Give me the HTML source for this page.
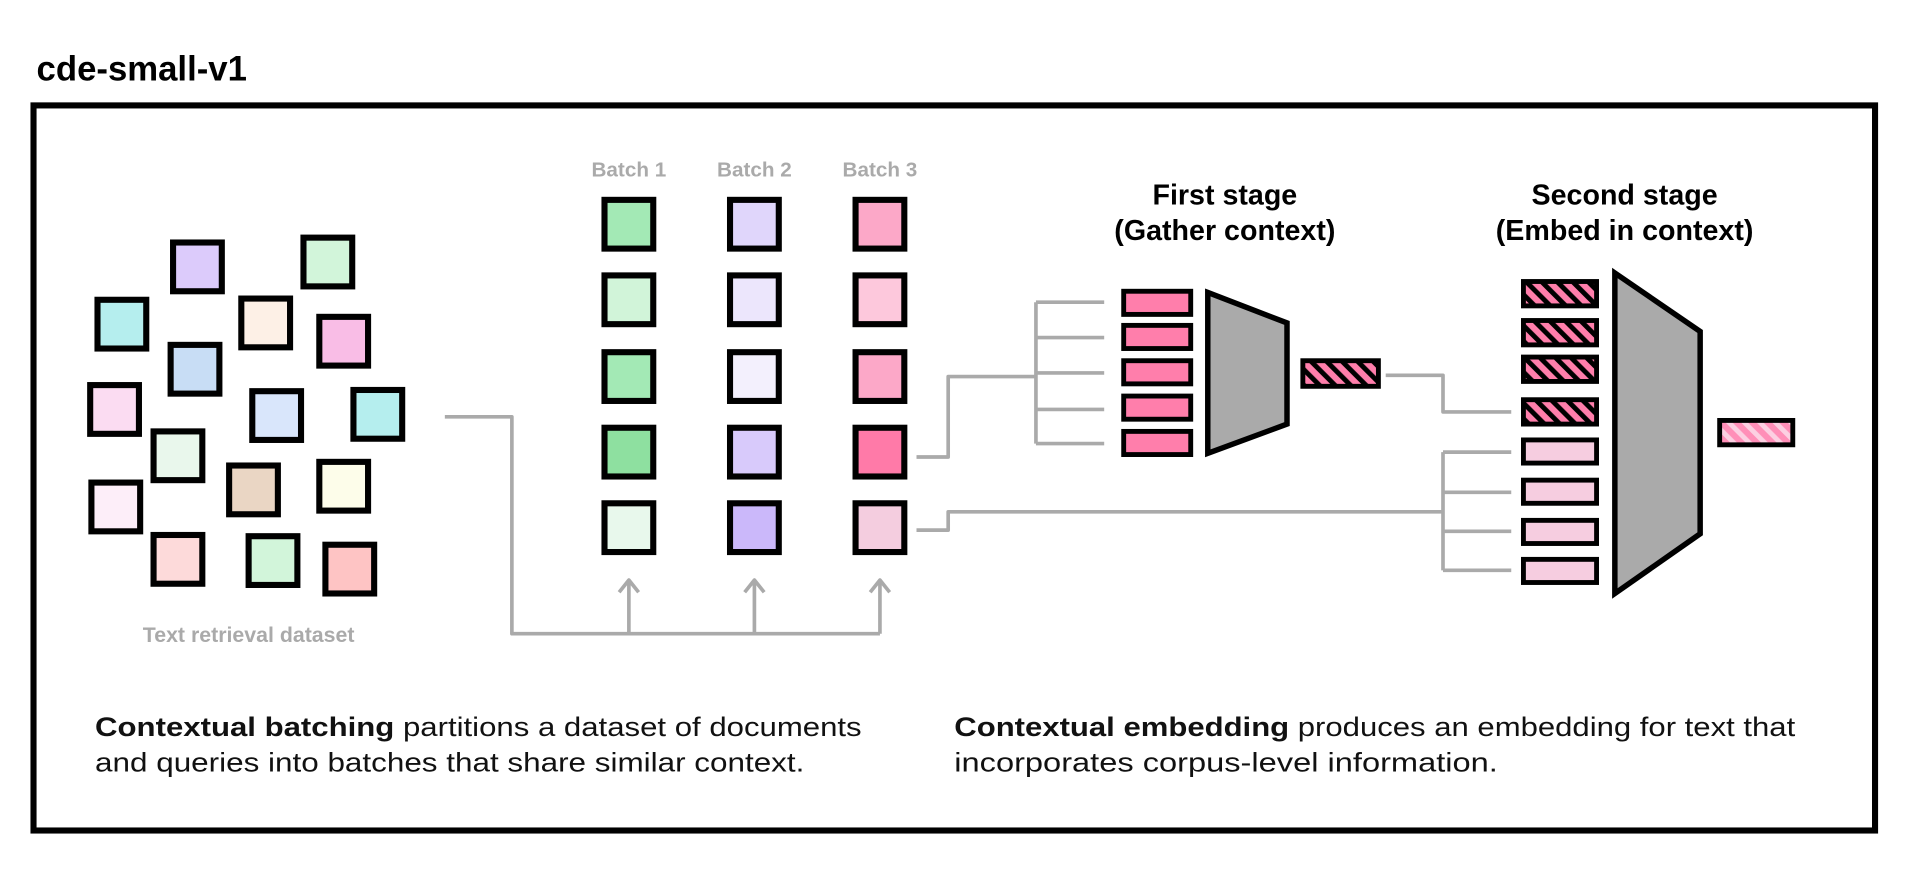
<!DOCTYPE html>
<html><head><meta charset="utf-8"><style>html,body{margin:0;padding:0;background:#fff}svg{display:block}</style></head>
<body>
<svg width="1911" height="889" viewBox="0 0 1568 729.5" preserveAspectRatio="none" xmlns="http://www.w3.org/2000/svg" font-family="Liberation Sans, Arial, sans-serif">
<defs>
<pattern id="hd" width="9" height="9" patternUnits="userSpaceOnUse" patternTransform="rotate(-45)">
<rect width="9" height="9" fill="#ff7eab"/><rect width="4" height="9" fill="#000"/></pattern>
<pattern id="hl" width="9" height="9" patternUnits="userSpaceOnUse" patternTransform="rotate(-45)">
<rect width="9" height="9" fill="#ff8fb8"/><rect width="4" height="9" fill="#fcd0e2"/></pattern>
</defs>
<rect width="1568" height="730" fill="#fff"/>
<text x="30" y="66" font-size="28.5" font-weight="bold" fill="#000">cde-small-v1</text>
<rect x="27.5" y="86.5" width="1511" height="595" fill="none" stroke="#000" stroke-width="5"/>

<g stroke="#000" stroke-width="5">
<rect x="142" y="199" width="40" height="40" fill="#dccbfb"/>
<rect x="249" y="195" width="40" height="40" fill="#d2f5da"/>
<rect x="80" y="246" width="40" height="40" fill="#b5eeee"/>
<rect x="198" y="245" width="40" height="40" fill="#fdf0e6"/>
<rect x="262" y="260" width="40" height="40" fill="#f9bde6"/>
<rect x="140" y="283" width="40" height="40" fill="#c8ddf5"/>
<rect x="74" y="316" width="40" height="40" fill="#fbdcf2"/>
<rect x="207" y="321" width="40" height="40" fill="#d9e6fb"/>
<rect x="290" y="320" width="40" height="40" fill="#b5eeee"/>
<rect x="126" y="354" width="40" height="40" fill="#e9f7ec"/>
<rect x="188" y="382" width="40" height="40" fill="#ead6c4"/>
<rect x="262" y="379" width="40" height="40" fill="#fdfdea"/>
<rect x="75" y="396" width="40" height="40" fill="#fdeef9"/>
<rect x="126" y="439" width="40" height="40" fill="#fddada"/>
<rect x="204" y="440" width="40" height="40" fill="#d2f5da"/>
<rect x="267" y="447" width="40" height="40" fill="#fec4c4"/>
</g>
<text x="204" y="527" font-size="17.5" font-weight="bold" fill="#aaa" text-anchor="middle">Text retrieval dataset</text>

<g font-size="17" font-weight="bold" fill="#aaa" text-anchor="middle">
<text x="516" y="145">Batch 1</text><text x="619" y="145">Batch 2</text><text x="722" y="145">Batch 3</text></g>
<g stroke="#000" stroke-width="5">
<rect x="496" y="164" width="40" height="40" fill="#a3e9b5"/>
<rect x="496" y="226" width="40" height="40" fill="#d1f4d9"/>
<rect x="496" y="289" width="40" height="40" fill="#a3e9b5"/>
<rect x="496" y="351" width="40" height="40" fill="#8ee0a0"/>
<rect x="496" y="413" width="40" height="40" fill="#e8f8ec"/>
<rect x="599" y="164" width="40" height="40" fill="#e0d6fb"/>
<rect x="599" y="226" width="40" height="40" fill="#ece6fc"/>
<rect x="599" y="289" width="40" height="40" fill="#f3f0fd"/>
<rect x="599" y="351" width="40" height="40" fill="#d8cafb"/>
<rect x="599" y="413" width="40" height="40" fill="#cbb8fa"/>
<rect x="702" y="164" width="40" height="40" fill="#fca8c8"/>
<rect x="702" y="226" width="40" height="40" fill="#fdc8dc"/>
<rect x="702" y="289" width="40" height="40" fill="#fca8c8"/>
<rect x="702" y="351" width="40" height="40" fill="#ff7aa8"/>
<rect x="702" y="413" width="40" height="40" fill="#f4cddf"/>
</g>

<g fill="none" stroke="#aaa" stroke-width="3" stroke-linejoin="round">
<path d="M365 342 H420 V520 H722"/>
<path d="M516 520 V476 M508 486 L516 476 L524 486"/>
<path d="M619 520 V476 M611 486 L619 476 L627 486"/>
<path d="M722 520 V476 M714 486 L722 476 L730 486"/>
<path d="M752 375 H778 V309 H850"/>
<path d="M850 248 V364 M850 248 H906 M850 277 H906 M850 306 H906 M850 336 H906 M850 364 H906"/>
<path d="M752 435 H778 V420 H1184"/>
<path d="M1184 371 V468 M1184 371 H1240 M1184 404 H1240 M1184 436 H1240 M1184 468 H1240"/>
<path d="M1137 308 H1184 V338 H1240"/>
</g>

<g font-size="23.5" font-weight="bold" fill="#000" text-anchor="middle">
<text x="1005" y="168">First stage</text><text x="1005" y="197">(Gather context)</text>
<text x="1333" y="168">Second stage</text><text x="1333" y="197">(Embed in context)</text></g>

<g stroke="#000" stroke-width="4" fill="#ff7eab">
<rect x="922" y="239" width="55" height="19"/>
<rect x="922" y="267" width="55" height="19"/>
<rect x="922" y="296" width="55" height="19"/>
<rect x="922" y="325" width="55" height="19"/>
<rect x="922" y="354" width="55" height="19"/>
</g>
<polygon points="991,240 1056,265 1056,348 991,372" fill="#aaa" stroke="#000" stroke-width="4.5"/>
<rect x="1069" y="296" width="62" height="21" fill="url(#hd)" stroke="#000" stroke-width="4"/>

<g stroke="#000" stroke-width="4">
<rect x="1250" y="231" width="60" height="20" fill="url(#hd)"/>
<rect x="1250" y="263" width="60" height="20" fill="url(#hd)"/>
<rect x="1250" y="293" width="60" height="20" fill="url(#hd)"/>
<rect x="1250" y="328" width="60" height="20" fill="url(#hd)"/>
<rect x="1250" y="361" width="60" height="19" fill="#f6cde0"/>
<rect x="1250" y="394" width="60" height="19" fill="#f6cde0"/>
<rect x="1250" y="427" width="60" height="19" fill="#f6cde0"/>
<rect x="1250" y="459" width="60" height="19" fill="#f6cde0"/>
</g>
<polygon points="1325,224 1395,272 1395,438 1325,487" fill="#aaa" stroke="#000" stroke-width="4.5"/>
<rect x="1411" y="345" width="60" height="20" fill="url(#hl)" stroke="#000" stroke-width="4"/>

<g font-size="22" fill="#111">
<text x="78" y="604" textLength="629" lengthAdjust="spacingAndGlyphs"><tspan font-weight="bold">Contextual batching</tspan> partitions a dataset of documents</text>
<text x="78" y="633" textLength="582" lengthAdjust="spacingAndGlyphs">and queries into batches that share similar context.</text>
<text x="783" y="604" textLength="690" lengthAdjust="spacingAndGlyphs"><tspan font-weight="bold">Contextual embedding</tspan> produces an embedding for text that</text>
<text x="783" y="633" textLength="446" lengthAdjust="spacingAndGlyphs">incorporates corpus-level information.</text>
</g>
</svg>
</body></html>
